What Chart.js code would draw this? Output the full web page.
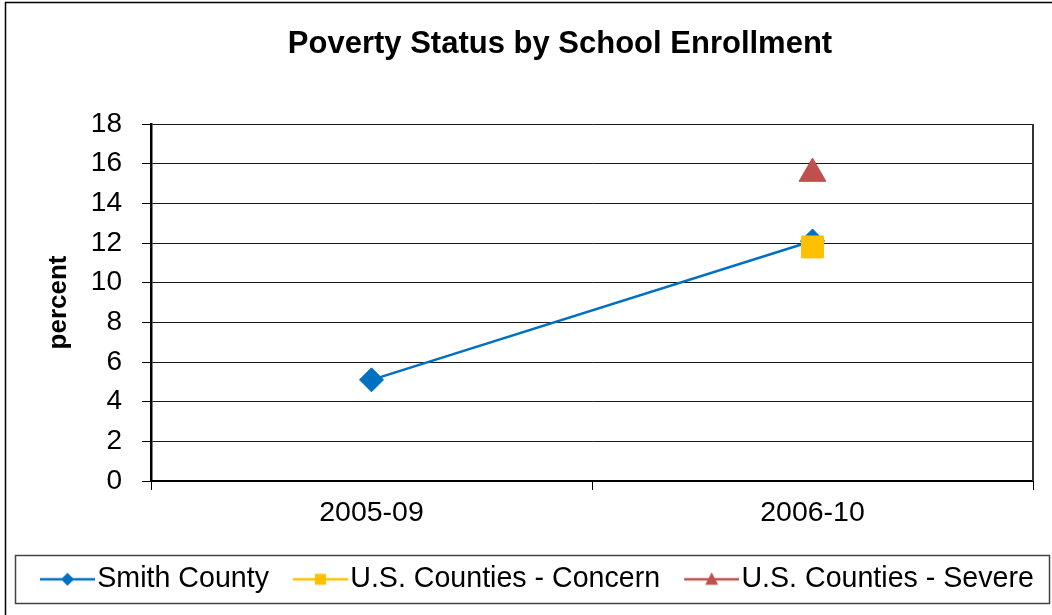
<!DOCTYPE html>
<html>
<head>
<meta charset="utf-8">
<script src="https://cdn.jsdelivr.net/npm/chart.js@4.4.1/dist/chart.umd.min.js"></script>
<style>
  html, body { margin: 0; padding: 0; background: #ffffff; overflow: hidden; }
  #wrap { width: 1052px; height: 615px; position: relative; }
</style>
</head>
<body>
<div id="wrap"><canvas id="c" width="1052" height="615"></canvas></div>
<script>
// ---- data ----
const chartTitle = 'Poverty Status by School Enrollment';
const yAxisTitle = 'percent';
const categories = ['2005-09', '2006-10'];
const seriesLabels = ['Smith County', 'U.S. Counties - Concern', 'U.S. Counties - Severe'];
const smithCounty = [5.1, 12.1];
const usCountiesConcern = [null, 11.8];
const usCountiesSevere = [null, 15.5];
const yTicks = [0, 2, 4, 6, 8, 10, 12, 14, 16, 18];

// ---- styles ----
const FONT = "'Liberation Sans', Arial, sans-serif";
const colors = ['#0070C0', '#FFC000', '#C0504D'];
const shapes = ['rectRot', 'rect', 'triangle'];

// legend icon: transparent left margin (26px) + 55px line with marker
function makeIcon(color, shape) {
  const c = document.createElement('canvas');
  c.width = 81; c.height = 20;
  const g = c.getContext('2d');
  const x0 = 26, cx = x0 + 27.5;
  g.strokeStyle = color; g.lineWidth = 2.5;
  g.beginPath(); g.moveTo(x0, 10); g.lineTo(x0 + 55, 10); g.stroke();
  g.fillStyle = color;
  g.beginPath();
  if (shape === 'rectRot') {
    g.moveTo(cx - 6.5, 10); g.lineTo(cx, 3.5); g.lineTo(cx + 6.5, 10); g.lineTo(cx, 16.5);
  } else if (shape === 'rect') {
    g.rect(cx - 5.5, 4.5, 11, 11);
  } else {
    g.moveTo(cx, 3); g.lineTo(cx + 6.5, 15.5); g.lineTo(cx - 6.5, 15.5);
  }
  g.closePath(); g.fill();
  return c;
}
const icons = colors.map((c, i) => makeIcon(c, shapes[i]));

const decor = {
  id: 'decor',
  afterLayout(chart) {
    const t = chart.titleBlock;
    if (t) { t.left = 68; t.right = 1052; }
    const lg = chart.legend;
    if (lg) {
      const p = lg.options.labels.padding;
      lg.left = 26 - p;
      lg.right = 1600;
      lg.top = 579 - 14 - p;
      lg.bottom = lg.top + lg.height;
    }
  },
  beforeDraw(chart) {
    const ctx = chart.ctx;
    ctx.save();
    ctx.fillStyle = '#ffffff';
    ctx.fillRect(0, 0, chart.width, chart.height);
    ctx.strokeStyle = '#000000';
    ctx.lineWidth = 1.5;
    ctx.strokeRect(5.5, 2.5, 3000, 3000);
    ctx.restore();
  },
  afterDraw(chart) {
    const ctx = chart.ctx;
    const a = chart.chartArea;
    ctx.save();
    ctx.strokeStyle = '#333333';
    ctx.lineWidth = 2;
    ctx.beginPath();
    ctx.moveTo(a.right, a.top);
    ctx.lineTo(a.right, a.bottom);
    ctx.stroke();
    ctx.strokeStyle = '#444444';
    ctx.lineWidth = 1.5;
    ctx.strokeRect(15.5, 555.5, 1034, 48);
    ctx.restore();
  }
};

new Chart(document.getElementById('c'), {
  type: 'line',
  data: {
    labels: categories,
    datasets: [
      {
        label: seriesLabels[0], data: smithCounty, order: 1,
        borderColor: colors[0], backgroundColor: colors[0], borderWidth: 2.5,
        pointStyle: shapes[0], pointRadius: 12, pointBackgroundColor: colors[0],
        pointBorderColor: colors[0], pointBorderWidth: 1, tension: 0
      },
      {
        label: seriesLabels[1], data: usCountiesConcern, order: 0, showLine: false,
        borderColor: colors[1], backgroundColor: colors[1],
        pointStyle: shapes[1], pointRadius: 15.5, pointBackgroundColor: colors[1],
        pointBorderColor: colors[1], pointBorderWidth: 1
      },
      {
        label: seriesLabels[2], data: usCountiesSevere, order: 0, showLine: false,
        borderColor: colors[2], backgroundColor: colors[2],
        pointStyle: shapes[2], pointRadius: 15.5, pointBackgroundColor: colors[2],
        pointBorderColor: colors[2], pointBorderWidth: 1
      }
    ]
  },
  options: {
    responsive: false,
    animation: false,
    devicePixelRatio: 1,
    events: [],
    layout: { padding: { left: 0, right: 19, top: 0, bottom: 0 } },
    plugins: {
      tooltip: { enabled: false },
      title: {
        display: true, text: chartTitle, color: '#000',
        font: { family: FONT, size: 31, weight: 'bold', lineHeight: 1.2 },
        padding: { top: 26, bottom: 60.8 }
      },
      legend: {
        display: true, position: 'bottom', align: 'start',
        labels: {
          usePointStyle: true, pointStyleWidth: 57, padding: 10, color: '#000',
          font: { family: FONT, size: 28.6 },
          generateLabels(chart) {
            return chart.data.datasets.map((ds, i) => ({
              text: ds.label, datasetIndex: i, hidden: false,
              pointStyle: icons[i], fillStyle: 'transparent', strokeStyle: 'transparent',
              lineWidth: 0, fontColor: '#000'
            }));
          }
        }
      }
    },
    scales: {
      x: {
        type: 'category', offset: true,
        grid: { display: true, offset: true, drawOnChartArea: false, drawTicks: true, tickLength: 9, color: '#000', tickColor: '#000', lineWidth: 1 },
        border: { display: true, color: '#000', width: 2 },
        ticks: { color: '#000', padding: 6, font: { family: FONT, size: 28.5 }, maxRotation: 0, autoSkip: false },
        afterFit(scale) { scale.height = Math.max(60, scale.chart.height - 481 - scale.chart.legend.height); }
      },
      y: {
        min: 0, max: 18,
        afterBuildTicks(scale) { scale.ticks = yTicks.map(v => ({ value: v })); },
        grid: { color: 'rgba(0,0,0,0.9)', lineWidth: 1, tickLength: 9, tickColor: '#000', drawTicks: true },
        border: { display: true, color: '#000', width: 2.5 },
        ticks: { color: '#000', padding: 20, font: { family: FONT, size: 28 } },
        title: {
          display: true, text: yAxisTitle, color: '#000',
          font: { family: FONT, size: 26, weight: 'bold', lineHeight: 1.2 },
          padding: { top: 43.4, bottom: 0 }
        },
        afterFit(scale) { scale.width = 151; }
      }
    }
  },
  plugins: [decor]
});
</script>
</body>
</html>
